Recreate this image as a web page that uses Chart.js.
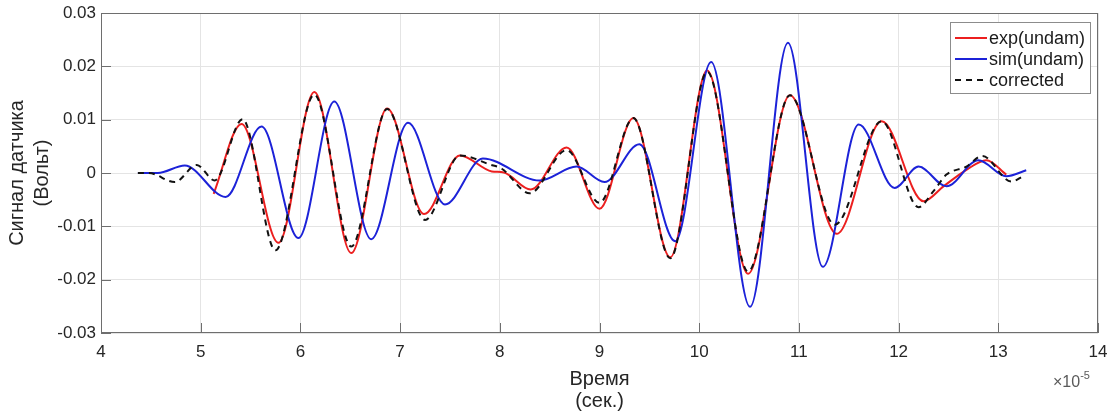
<!DOCTYPE html>
<html>
<head>
<meta charset="utf-8">
<script src="https://cdn.jsdelivr.net/npm/chart.js@4.4.0/dist/chart.umd.min.js"></script>
<style>
    html, body { margin: 0; padding: 0; background: #fff; }
    #wrap { width: 1110px; height: 412px; }
</style>
</head>
<body>
<div id="wrap"><canvas id="myChart"></canvas></div>
<script>
// time in units of 1e-5 s
var expTime = [5.13, 5.41, 5.78, 6.14, 6.51, 6.87, 7.24, 7.60, 7.92, 8.04, 8.31, 8.67, 9.00, 9.34, 9.71, 10.08, 10.49, 10.91, 11.38, 11.83, 12.25, 12.45, 12.68, 12.88, 13.08];
var expSignal = [-0.0039, 0.0092, -0.0131, 0.0152, -0.0150, 0.0121, -0.0077, 0.0033, 0.0003, 0.0001, -0.0031, 0.0048, -0.0067, 0.0103, -0.0158, 0.0192, -0.0189, 0.0146, -0.0114, 0.0097, -0.0053, -0.0025, 0.0006, 0.0024, -0.0003];

var simTime = [4.37, 4.57, 4.84, 5.25, 5.61, 5.98, 6.34, 6.71, 7.08, 7.45, 7.83, 8.40, 8.77, 9.05, 9.40, 9.76, 10.12, 10.51, 10.89, 11.24, 11.60, 11.96, 12.20, 12.48, 12.80, 13.08, 13.28];
var simSignal = [0, 0, 0.0014, -0.0045, 0.0087, -0.0122, 0.0134, -0.0124, 0.0094, -0.0059, 0.0027, -0.0014, 0.0012, -0.0017, 0.0054, -0.0128, 0.0208, -0.0251, 0.0244, -0.0176, 0.0091, -0.0028, 0.0012, -0.0025, 0.0024, -0.0006, 0.0005];

var corrTime = [4.37, 4.48, 4.74, 4.96, 5.14, 5.42, 5.75, 6.14, 6.51, 6.87, 7.25, 7.60, 7.90, 8.02, 8.30, 8.67, 9.00, 9.34, 9.71, 10.08, 10.49, 10.91, 11.36, 11.83, 12.20, 12.35, 12.48, 12.68, 12.84, 13.13, 13.25];
var corrSignal = [0, 0, -0.0017, 0.0015, -0.0014, 0.0101, -0.0145, 0.0147, -0.0138, 0.0120, -0.0088, 0.0033, 0.0016, 0.0008, -0.0038, 0.0043, -0.0056, 0.0103, -0.0160, 0.0190, -0.0185, 0.0146, -0.0097, 0.0097, -0.0064, -0.0034, -0.0003, 0.0012, 0.0032, -0.0016, -0.0006];

var xTicks = [4, 5, 6, 7, 8, 9, 10, 11, 12, 13, 14];
var yTicks = [-0.03, -0.02, -0.01, 0, 0.01, 0.02, 0.03];
var yTickLabels = ["-0.03", "-0.02", "-0.01", "0", "0.01", "0.02", "0.03"];

var FONT = "'Liberation Sans', Arial, sans-serif";

function toPoints(xs, ys) {
    return xs.map(function (x, i) {
        return { x: x, y: ys[i] };
    });
}

// frame, inner ticks, legend box and the x10^-5 mark
const matlabLook = {
    id: "matlabLook",
    afterDraw: function (chart) {
        const ctx = chart.ctx;
        const a = chart.chartArea;
        const xs = chart.scales.x;
        const ys = chart.scales.y;
        ctx.save();
        ctx.strokeStyle = "#6e6e6e";
        ctx.lineWidth = 1;
        ctx.strokeRect(a.left + 0.5, a.top + 0.5, a.right - a.left - 1, a.bottom - a.top - 1);
        ctx.beginPath();
        xTicks.forEach(function (v) {
            const px = Math.round(xs.getPixelForValue(v)) + 0.5;
            ctx.moveTo(px, a.bottom);
            ctx.lineTo(px, a.bottom - 10);
        });
        yTicks.forEach(function (v) {
            const py = Math.round(ys.getPixelForValue(v)) + 0.5;
            ctx.moveTo(a.left, py);
            ctx.lineTo(a.left + 10, py);
        });
        ctx.stroke();

        // exponent label
        ctx.fillStyle = "#5a5a5a";
        ctx.textBaseline = "alphabetic";
        ctx.textAlign = "left";
        ctx.font = "16px " + FONT;
        const ex = a.right - 45;
        const ey = a.bottom + 54;
        ctx.fillText("\u00d710", ex, ey);
        const w = ctx.measureText("\u00d710").width;
        ctx.font = "11px " + FONT;
        ctx.fillText("-5", ex + w, ey - 8);

        // legend
        const lx = a.right - 148, ly = a.top + 9, lw = 140, lh = 71;
        ctx.fillStyle = "#fff";
        ctx.fillRect(lx, ly, lw, lh);
        ctx.strokeStyle = "#8c8c8c";
        ctx.strokeRect(lx + 0.5, ly + 0.5, lw, lh);
        ctx.font = "18px " + FONT;
        ctx.textBaseline = "middle";
        chart.data.datasets.forEach(function (ds, i) {
            const ry = ly + 16 + i * 21;
            ctx.beginPath();
            ctx.strokeStyle = ds.borderColor;
            ctx.lineWidth = 2;
            ctx.setLineDash(ds.borderDash || []);
            ctx.moveTo(lx + 5, ry);
            ctx.lineTo(lx + 37, ry);
            ctx.stroke();
            ctx.setLineDash([]);
            ctx.fillStyle = "#1a1a1a";
            ctx.fillText(ds.label, lx + 39, ry + 1);
        });
        ctx.restore();
    }
};

const ctx = document.getElementById("myChart");
new Chart(ctx, {
    type: "scatter",
    data: {
        datasets: [
            {
                label: "exp(undam)",
                data: toPoints(expTime, expSignal),
                borderColor: "#ec1f1f",
                borderWidth: 2,
                showLine: true,
                pointRadius: 0,
                cubicInterpolationMode: "monotone",
                order: 3
            },
            {
                label: "sim(undam)",
                data: toPoints(simTime, simSignal),
                borderColor: "#1c22d8",
                borderWidth: 2,
                showLine: true,
                pointRadius: 0,
                cubicInterpolationMode: "monotone",
                order: 2
            },
            {
                label: "corrected",
                data: toPoints(corrTime, corrSignal),
                borderColor: "#111111",
                borderWidth: 2,
                borderDash: [6, 5],
                showLine: true,
                pointRadius: 0,
                cubicInterpolationMode: "monotone",
                order: 1
            }
        ]
    },
    options: {
        responsive: true,
        maintainAspectRatio: false,
        animation: false,
        events: [],
        layout: { padding: { top: 13, right: 12, left: 0, bottom: 0 } },
        plugins: {
            legend: { display: false },
            tooltip: { enabled: false }
        },
        scales: {
            x: {
                type: "linear",
                min: 4,
                max: 14,
                afterBuildTicks: function (scale) {
                    scale.ticks = xTicks.map(function (v) { return { value: v }; });
                },
                afterFit: function (scale) {
                    scale.height = 79;
                    scale.paddingLeft = 0;
                    scale.paddingRight = 0;
                },
                ticks: {
                    color: "#262626",
                    font: { family: FONT, size: 17 },
                    padding: 9,
                    maxRotation: 0
                },
                grid: { color: "#e4e4e4", drawTicks: false },
                border: { display: false },
                title: {
                    display: true,
                    text: ["Время", "(сек.)"],
                    color: "#262626",
                    font: { family: FONT, size: 20, lineHeight: 1.1 },
                    padding: { top: 0, bottom: 0 }
                }
            },
            y: {
                type: "linear",
                min: -0.03,
                max: 0.03,
                afterBuildTicks: function (scale) {
                    scale.ticks = yTicks.map(function (v) { return { value: v }; });
                },
                afterFit: function (scale) {
                    scale.width = 101;
                    scale.paddingTop = 0;
                    scale.paddingBottom = 0;
                },
                ticks: {
                    color: "#262626",
                    font: { family: FONT, size: 17 },
                    padding: 5,
                    callback: function (value, index) { return yTickLabels[index]; }
                },
                grid: { color: "#e4e4e4", drawTicks: false },
                border: { display: false },
                title: {
                    display: true,
                    text: ["Сигнал датчика", "(Вольт)"],
                    color: "#262626",
                    font: { family: FONT, size: 20, lineHeight: 1.25 },
                    padding: { top: 5, bottom: 0 }
                }
            }
        }
    },
    plugins: [matlabLook]
});
</script>
</body>
</html>
